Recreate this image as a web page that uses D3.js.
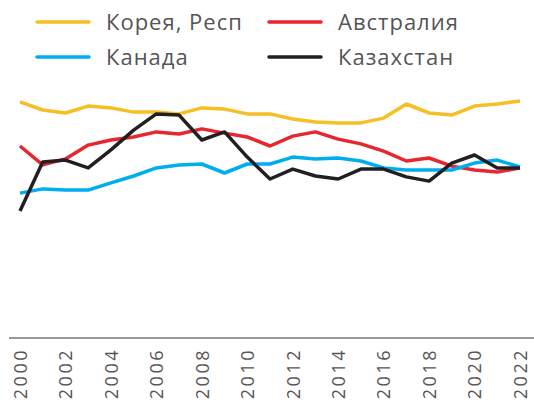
<!DOCTYPE html>
<html>
<head>
<meta charset="utf-8">
<script src="https://cdn.jsdelivr.net/npm/d3@7"></script>
<style>
  body { margin: 0; background: #fff; }
  text { font-family: "Open Sans", sans-serif; }
</style>
</head>
<body>
<div id="plot"></div>
<script>
// Data
const years = d3.range(2000, 2023);
const tickYears = d3.range(2000, 2023, 2);
const korea = [78.7, 76, 75, 77.3, 76.7, 75.3, 75.3, 74.7, 76.7, 76.3, 74.7, 74.7, 73, 72, 71.7, 71.7, 73.3, 78, 75, 74.3, 77.3, 78, 79];
const australia = [64, 57.7, 59.7, 64.3, 66, 67, 68.7, 68, 69.7, 68.3, 67, 64, 67.3, 68.7, 66.3, 64.7, 62.3, 59, 60, 57.3, 56, 55.3, 56.7];
const canada = [48.3, 49.7, 49.3, 49.3, 51.7, 54, 56.7, 57.7, 58, 55, 58, 58, 60.3, 59.7, 60, 59, 56.7, 56, 56, 56, 58.3, 59.3, 57];
const kazakhstan = [42.3, 58.7, 59.3, 56.7, 62.7, 69.3, 74.7, 74.3, 66, 68.7, 60.3, 53, 56.3, 54, 53, 56.3, 56.3, 53.7, 52.3, 58.3, 61, 56.7, 56.7];
const seriesNames = ["Корея, Респ", "Австралия", "Канада", "Казахстан"];
const seriesColors = ["#f6bf26", "#e8262d", "#00aeef", "#231f20"];
const seriesValues = [korea, australia, canada, kazakhstan];

const width = 534, height = 407;

const svg = d3.select("#plot")
  .append("svg")
  .attr("width", width)
  .attr("height", height);

const x = d3.scaleLinear()
  .domain([2000, 2022])
  .range([20, 520]);

const y = d3.scaleLinear()
  .domain([0, 100])
  .range([338, 38]);

// Baseline
svg.append("line")
  .attr("x1", 9)
  .attr("x2", width)
  .attr("y1", y(0))
  .attr("y2", y(0))
  .attr("stroke", "#777")
  .attr("stroke-width", 1.5);

// X axis with rotated labels
const xAxis = svg.append("g")
  .attr("transform", `translate(0, ${y(0)})`)
  .call(d3.axisBottom(x).tickValues(tickYears).tickFormat(d3.format("d")).tickSize(0));

xAxis.select(".domain").remove();
xAxis.selectAll("text")
  .attr("transform", "rotate(-90)")
  .attr("text-anchor", "end")
  .attr("x", -10)
  .attr("y", 0)
  .attr("dy", "0.35em")
  .attr("fill", "#555")
  .style("font-size", "18px")
  .style("letter-spacing", "2.5px")
  .style("font-family", "'Open Sans', sans-serif");

// Lines
const line = d3.line()
  .x((d, i) => x(years[i]))
  .y(d => y(d));

seriesValues.forEach((vals, k) => {
  svg.append("path")
    .datum(vals)
    .attr("fill", "none")
    .attr("stroke", seriesColors[k])
    .attr("stroke-width", 3.5)
    .attr("stroke-linejoin", "round")
    .attr("d", line);
});

// Legend
const legendPos = [[37, 22], [269, 22], [37, 57], [269, 57]];
seriesNames.forEach((name, k) => {
  const [lx, ly] = legendPos[k];
  svg.append("line")
    .attr("x1", lx)
    .attr("x2", lx + 52)
    .attr("y1", ly)
    .attr("y2", ly)
    .attr("stroke", seriesColors[k])
    .attr("stroke-width", 3.5)
    .attr("stroke-linecap", "round");
  svg.append("text")
    .attr("x", lx + 69)
    .attr("y", ly)
    .attr("dy", "0.35em")
    .attr("fill", "#555")
    .style("font-size", "22px")
    .style("letter-spacing", "1px")
    .text(name);
});
</script>
</body>
</html>
